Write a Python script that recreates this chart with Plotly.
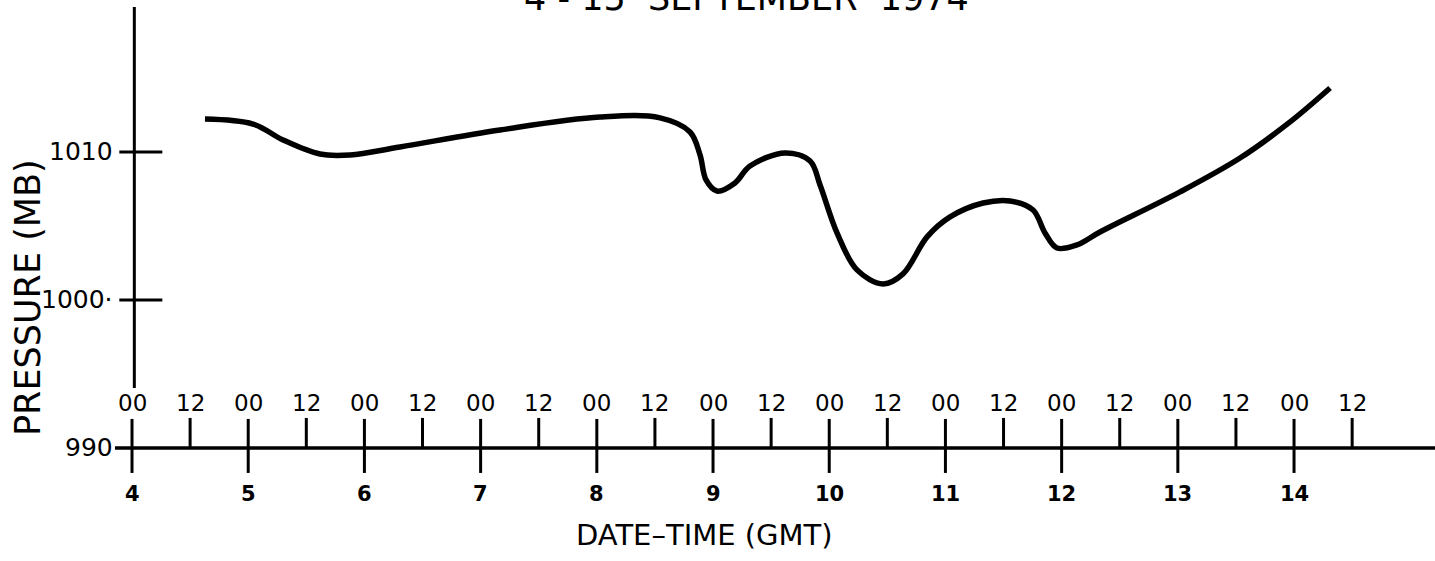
import plotly.graph_objects as go

# ---- data ----
# time in days of September 1974 (day + fraction), pressure in mb
time_days = [4.628, 5.041, 5.300, 5.618, 5.876, 6.306, 7.167, 8.028, 8.544, 8.802,
             8.888, 8.940, 9.034, 9.189, 9.318, 9.620, 9.835, 9.921, 10.067, 10.239,
             10.463, 10.635, 10.842, 11.040, 11.324, 11.556, 11.754, 11.857, 11.960,
             12.132, 12.330, 13.019, 13.535, 13.966, 14.310]
pressure_mb = [1012.23, 1011.89, 1010.81, 1009.86, 1009.80, 1010.34, 1011.49, 1012.36,
               1012.30, 1011.35, 1009.80, 1008.11, 1007.36, 1007.91, 1009.05, 1009.93,
               1009.39, 1007.77, 1004.53, 1002.03, 1001.08, 1001.76, 1004.26, 1005.61,
               1006.55, 1006.69, 1006.08, 1004.53, 1003.51, 1003.72, 1004.59, 1007.30,
               1009.59, 1012.03, 1014.32]

day_ticks = [4, 5, 6, 7, 8, 9, 10, 11, 12, 13, 14]
day_labels = ["4", "5", "6", "7", "8", "9", "10", "11", "12", "13", "14"]
half_ticks = [4.5, 5.5, 6.5, 7.5, 8.5, 9.5, 10.5, 11.5, 12.5, 13.5, 14.5]
hour_label_00 = "00"
hour_label_12 = "12"
p_ticks = [1010, 1000, 990]
p_labels = ["1010", "1000·", "990"]

title_text = "4 - 15&nbsp;&nbsp;SEPTEMBER&nbsp;&nbsp;1974"
x_title = "DATE–TIME (GMT)"
y_title = "PRESSURE (MB)"

# ---- layout geometry ----
W, H = 1435, 561
X_RANGE = [2.864, 15.213]
Y_RANGE = [982.36, 1020.27]
px_per_day = W / (X_RANGE[1] - X_RANGE[0])
px_per_mb = H / (Y_RANGE[1] - Y_RANGE[0])
BASE = 990  # level of the time axis
Y_AXIS_X = 4.02


def dx(px):
    return px / px_per_day


def dy(px):
    return px / px_per_mb


FONT = "DejaVu Sans"
INK = "black"

fig = go.Figure()
fig.add_trace(go.Scatter(
    x=time_days, y=pressure_mb, mode="lines",
    line=dict(color=INK, width=5.5, shape="spline", smoothing=1.0),
    hoverinfo="skip", showlegend=False))

shapes = []
annotations = []

# time axis line
shapes.append(dict(type="line", xref="x", yref="y",
                   x0=day_ticks[0] - dx(17), x1=X_RANGE[1], y0=BASE, y1=BASE,
                   line=dict(color=INK, width=3.5)))
# 00 ticks (cross the axis) with labels
for d, lab in zip(day_ticks, day_labels):
    shapes.append(dict(type="line", xref="x", yref="y", x0=d, x1=d,
                       y0=BASE + dy(29), y1=BASE - dy(25),
                       line=dict(color=INK, width=3)))
    annotations.append(dict(x=d, y=BASE + dy(45), xref="x", yref="y",
                            text=hour_label_00, showarrow=False,
                            xanchor="center", yanchor="middle",
                            font=dict(family=FONT, size=23, color=INK)))
    annotations.append(dict(x=d, y=BASE - dy(46), xref="x", yref="y",
                            text="<b>" + lab + "</b>", showarrow=False,
                            xanchor="center", yanchor="middle",
                            font=dict(family=FONT, size=21, color=INK)))
# 12 ticks (above only)
for d in half_ticks:
    shapes.append(dict(type="line", xref="x", yref="y", x0=d, x1=d,
                       y0=BASE + dy(30), y1=BASE,
                       line=dict(color=INK, width=3)))
    annotations.append(dict(x=d, y=BASE + dy(45), xref="x", yref="y",
                            text=hour_label_12, showarrow=False,
                            xanchor="center", yanchor="middle",
                            font=dict(family=FONT, size=23, color=INK)))

# pressure axis line
shapes.append(dict(type="line", xref="x", yref="y", x0=Y_AXIS_X, x1=Y_AXIS_X,
                   y0=Y_RANGE[1] - dy(7), y1=BASE + dy(60),
                   line=dict(color=INK, width=3)))
for p, lab in zip(p_ticks, p_labels):
    if p != BASE:
        shapes.append(dict(type="line", xref="x", yref="y",
                           x0=Y_AXIS_X - dx(15), x1=Y_AXIS_X + dx(28), y0=p, y1=p,
                           line=dict(color=INK, width=3)))
    annotations.append(dict(x=day_ticks[0] - dx(17), y=p, xref="x", yref="y",
                            text=lab, showarrow=False, xanchor="right",
                            yanchor="middle",
                            font=dict(family=FONT, size=25, color=INK)))

# titles
annotations.append(dict(x=746 / W, y=1 - 20 / H, xref="paper", yref="paper",
                        text=title_text, showarrow=False,
                        xanchor="center", yanchor="bottom",
                        font=dict(family=FONT, size=35, color=INK)))
annotations.append(dict(x=704 / W, y=1 - 535 / H, xref="paper", yref="paper",
                        text=x_title, showarrow=False,
                        xanchor="center", yanchor="middle",
                        font=dict(family=FONT, size=29, color=INK)))
annotations.append(dict(x=28 / W, y=1 - 298 / H, xref="paper", yref="paper",
                        text=y_title, showarrow=False, textangle=-90,
                        xanchor="center", yanchor="middle",
                        font=dict(family=FONT, size=35, color=INK)))

fig.update_layout(
    width=W, height=H,
    margin=dict(l=0, r=0, t=0, b=0),
    paper_bgcolor="white", plot_bgcolor="white",
    xaxis=dict(range=X_RANGE, visible=False, fixedrange=True),
    yaxis=dict(range=Y_RANGE, visible=False, fixedrange=True),
    shapes=shapes, annotations=annotations,
    showlegend=False,
)

fig.write_html("out.html", config={"displayModeBar": False},
               post_script="document.body.style.margin='0';")
